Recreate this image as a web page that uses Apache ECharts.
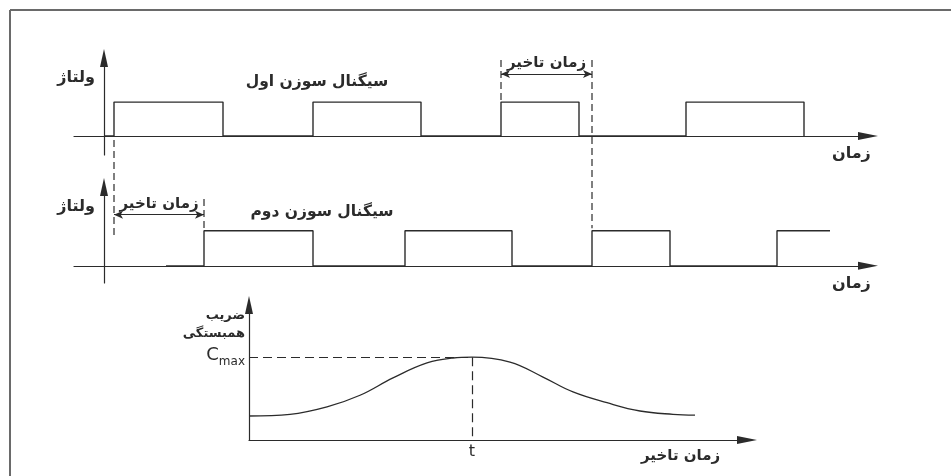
<!DOCTYPE html>
<html>
<head>
<meta charset="utf-8">
<script src="https://cdn.jsdelivr.net/npm/echarts@6/dist/echarts.min.js"></script>
<style>
  html, body { margin: 0; padding: 0; background: #fff; }
  #main { width: 951px; height: 476px; }
</style>
</head>
<body>
<div id="main"></div>
<script>
// زمان (واحد دلخواه) - لبه های پالس سیگنال اول و دوم
var sig1Start = 0;
var sig1Edges = [1, 11.9, 20.9, 31.7, 39.7, 47.5, 58.2, 70.0];
var sig1End = 70.0;
var sig2Start = 6.2;
var sig2Edges = [10, 20.9, 30.1, 40.8, 48.8, 56.6, 67.3];
var sig2End = 72.6;

// خطوط راهنمای خط چین [x, y1, y2]
var guideTop = [[1, -0.12, -3.01], [39.7, 2.24, 1], [48.8, 2.24, -2.72]];
var guideMid = [[10, 1.91, 1]];
var delayTop = [39.7, 48.8, 1.83];
var delayMid = [1, 10, 1.46];

// ضریب همبستگی بر حسب زمان تاخیر
var corrDelay = [0, 4.1, 7.8, 11.1, 14.4, 17.8, 20.4, 22.3, 26.1, 29.4, 32.4, 35.8, 39.1, 42.4, 44.6];
var corrValue = [0.29, 0.31, 0.40, 0.54, 0.75, 0.93, 0.99, 1.0, 0.94, 0.76, 0.58, 0.45, 0.35, 0.31, 0.30];
var peakDelay = 22.3;
var cMax = 1;

var ink = '#2b2b2b';
var font = '"DejaVu Sans", sans-serif';
var faText = { color: ink, fontFamily: font, fontWeight: 'bold' };

function steps(start, edges, end) {
    var pts = [[start, 0]];
    var level = 0;
    edges.forEach(function (e) {
        pts.push([e, level]);
        level = 1 - level;
        pts.push([e, level]);
    });
    pts.push([end, level]);
    return pts;
}

function dashSeries(list, grid) {
    return list.map(function (g) {
        return {
            type: 'line', xAxisIndex: grid, yAxisIndex: grid, clip: false, symbol: 'none', silent: true,
            data: [[g[0], g[1]], [g[0], g[2]]],
            lineStyle: { color: ink, width: 1.2, type: [7, 4] }
        };
    });
}

function delayLine(d, grid) {
    return {
        type: 'line', xAxisIndex: grid, yAxisIndex: grid, data: [], symbol: 'none',
        markLine: {
            silent: true, symbol: ['arrow', 'arrow'], symbolSize: [6, 9],
            lineStyle: { color: ink, width: 1, type: 'solid' },
            label: Object.assign({ show: true, position: 'insideMiddleTop', distance: 3, formatter: 'زمان تاخیر', fontSize: 15 }, faText),
            data: [[{ coord: [d[0], d[2]] }, { coord: [d[1], d[2]] }]]
        }
    };
}

function timeX(grid) {
    return {
        type: 'value', gridIndex: grid, min: -3, max: 76.4,
        name: 'زمان', nameLocation: 'end', nameGap: -36,
        nameTextStyle: Object.assign({ fontSize: 16, align: 'left', verticalAlign: 'top', padding: [10, 0, 0, 0] }, faText),
        axisLine: { onZero: true, symbol: ['none', 'triangle'], symbolSize: [8, 20], lineStyle: { color: ink, width: 1.2 } },
        axisTick: { show: false }, axisLabel: { show: false }, splitLine: { show: false }
    };
}

function voltY(grid, min, max) {
    return {
        type: 'value', gridIndex: grid, min: min, max: max,
        name: 'ولتاژ', nameLocation: 'end', nameGap: -20,
        nameTextStyle: Object.assign({ fontSize: 16, align: 'right', verticalAlign: 'middle', padding: [0, 9, 0, 0] }, faText),
        axisLine: { onZero: true, symbol: ['none', 'triangle'], symbolSize: [8, 18], lineStyle: { color: ink, width: 1.2 } },
        axisTick: { show: false }, axisLabel: { show: false }, splitLine: { show: false }
    };
}

var chart = echarts.init(document.getElementById('main'));

var series = [
    {
        type: 'line', xAxisIndex: 0, yAxisIndex: 0, data: steps(sig1Start, sig1Edges, sig1End),
        symbol: 'none', lineStyle: { color: ink, width: 1.4 }
    },
    {
        type: 'line', xAxisIndex: 1, yAxisIndex: 1, data: steps(sig2Start, sig2Edges, sig2End),
        symbol: 'none', lineStyle: { color: ink, width: 1.4 }
    },
    delayLine(delayTop, 0),
    delayLine(delayMid, 1),
    {
        type: 'line', xAxisIndex: 2, yAxisIndex: 2, smooth: 0.4, symbol: 'none',
        data: corrDelay.map(function (d, i) { return [d, corrValue[i]]; }),
        lineStyle: { color: ink, width: 1.3 },
        markLine: {
            silent: true, symbol: 'none', label: { show: false },
            lineStyle: { color: ink, width: 1.2, type: [9, 5] },
            data: [
                [{ coord: [0, cMax] }, { coord: [peakDelay, cMax] }],
                [{ coord: [peakDelay, cMax] }, { coord: [peakDelay, 0] }]
            ]
        }
    }
].concat(dashSeries(guideTop, 0), dashSeries(guideMid, 1));

chart.setOption({
    backgroundColor: '#ffffff',
    animation: false,
    grid: [
        { left: 74, right: 83, top: 58, bottom: 476 - 155 },
        { left: 74, right: 83, top: 187, bottom: 476 - 283 },
        { left: 249, right: 204, top: 305, bottom: 36 }
    ],
    xAxis: [
        timeX(0),
        timeX(1),
        {
            type: 'value', gridIndex: 2, min: 0, max: 49.8,
            name: 'زمان تاخیر', nameLocation: 'end', nameGap: -106,
            nameTextStyle: Object.assign({ fontSize: 15, align: 'left', verticalAlign: 'top', padding: [9, 0, 0, 0] }, faText),
            axisLine: { symbol: ['none', 'triangle'], symbolSize: [8, 20], lineStyle: { color: ink, width: 1.2 } },
            axisTick: { show: false }, splitLine: { show: false },
            axisLabel: { customValues: [peakDelay], formatter: function () { return 't'; }, color: ink, fontSize: 16, fontFamily: font, margin: 4 }
        }
    ],
    yAxis: [
        voltY(0, -0.56, 2.3),
        voltY(1, -0.49, 2.25),
        {
            type: 'value', gridIndex: 2, min: 0, max: 1.63,
            name: 'ضریب\nهمبستگی', nameLocation: 'end', nameGap: -20,
            nameTextStyle: Object.assign({ fontSize: 13, lineHeight: 18, align: 'right', verticalAlign: 'middle', padding: [0, 4, 0, 0] }, faText),
            axisLine: { symbol: ['none', 'triangle'], symbolSize: [8, 18], lineStyle: { color: ink, width: 1.2 } },
            axisTick: { show: false }, splitLine: { show: false },
            axisLabel: {
                customValues: [cMax], margin: 4,
                formatter: function () { return '{c|C}{s|max}'; },
                rich: {
                    c: { fontSize: 18, color: ink, fontFamily: font, padding: [0, 0, 4, 0] },
                    s: { fontSize: 12, color: ink, fontFamily: font, padding: [9, 0, 0, 0] }
                }
            }
        }
    ],
    graphic: [
        { type: 'line', shape: { x1: 10, y1: 10, x2: 951, y2: 10 }, style: { stroke: '#6a6a6a', lineWidth: 2 } },
        { type: 'line', shape: { x1: 10, y1: 10, x2: 10, y2: 476 }, style: { stroke: '#6a6a6a', lineWidth: 2 } },
        { type: 'text', x: 317, y: 82, style: { text: 'سیگنال سوزن اول', fill: ink, font: 'bold 15.5px ' + font, textAlign: 'center', textVerticalAlign: 'middle' } },
        { type: 'text', x: 322, y: 212, style: { text: 'سیگنال سوزن دوم', fill: ink, font: 'bold 15.5px ' + font, textAlign: 'center', textVerticalAlign: 'middle' } }
    ],
    series: series
});
</script>
</body>
</html>
